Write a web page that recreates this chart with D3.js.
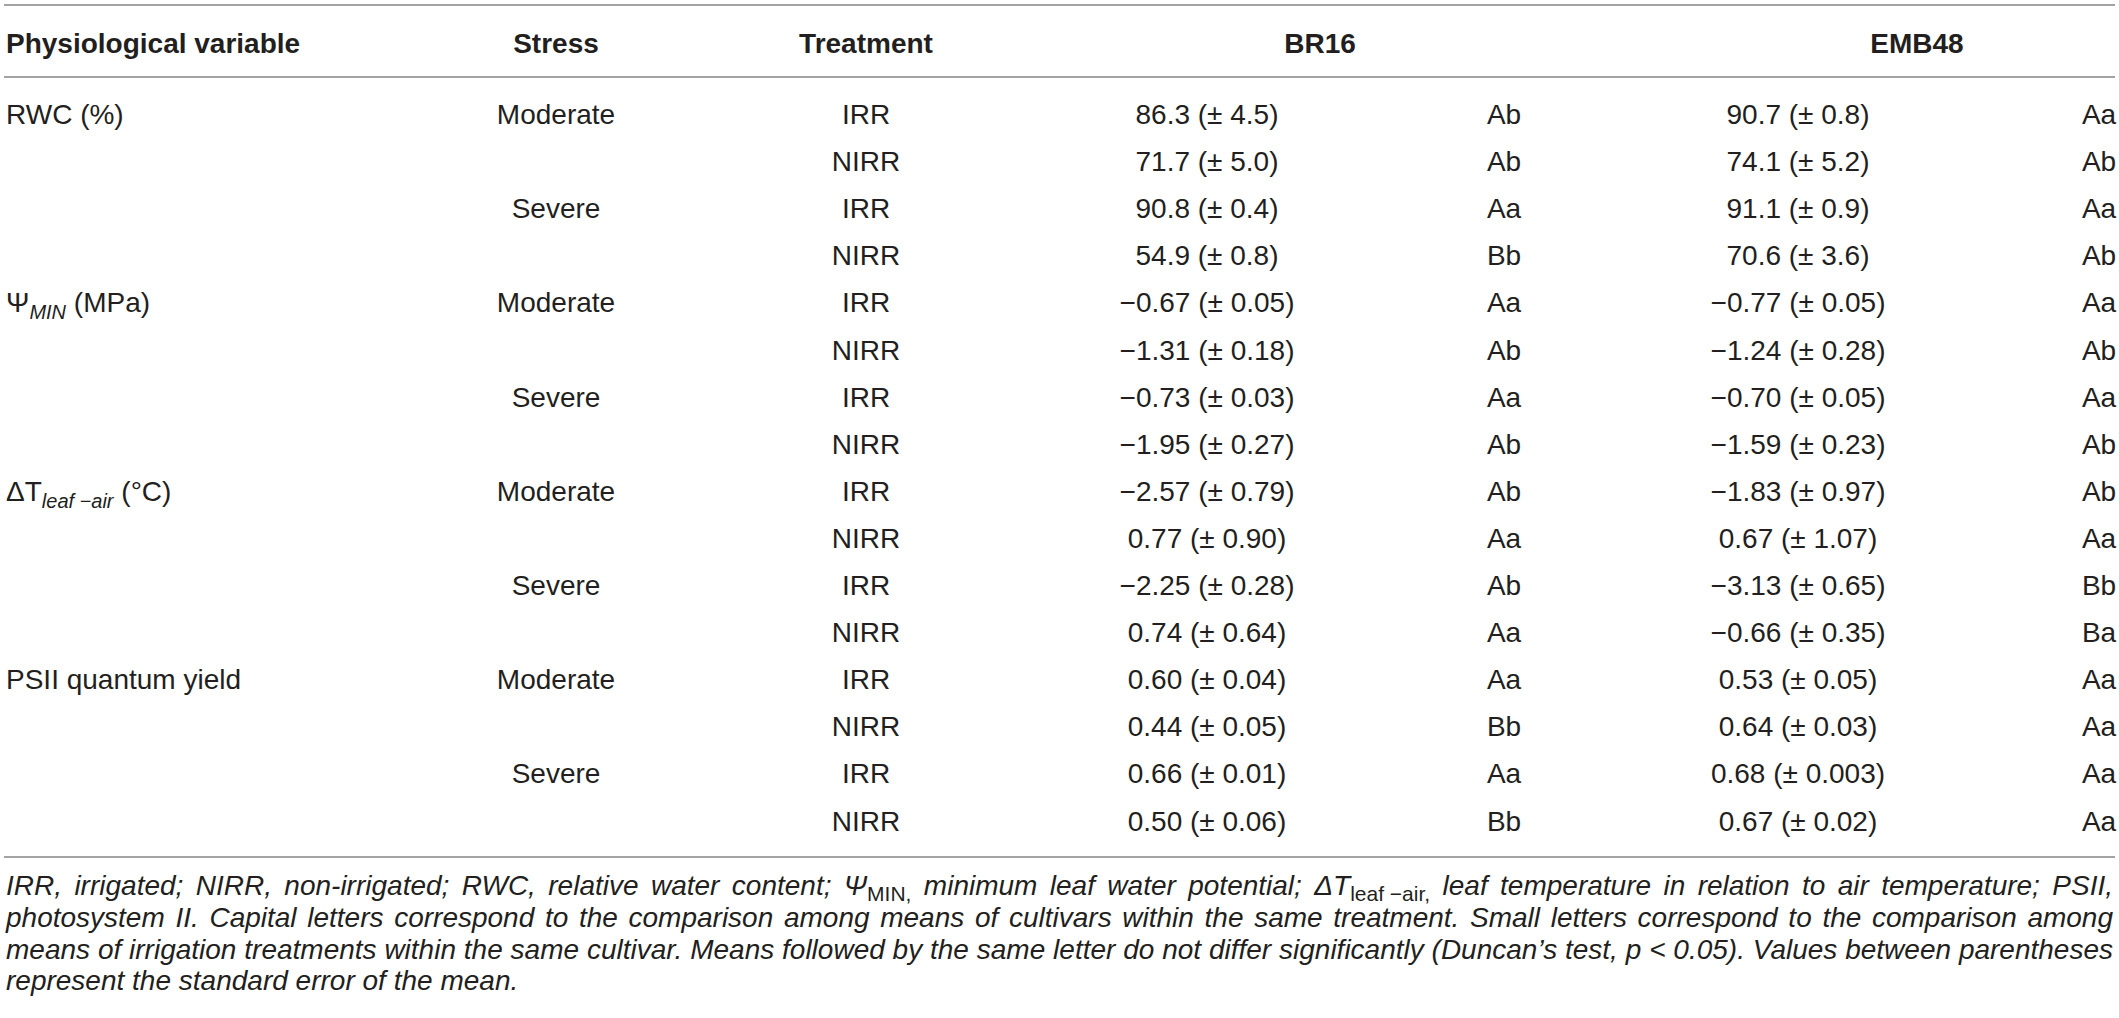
<!DOCTYPE html>
<html>
<head>
<meta charset="utf-8">
<script src="https://cdn.jsdelivr.net/npm/d3@7"></script>
<style>
  html, body { margin: 0; padding: 0; background: #fff; }
  svg text { font-family: "Liberation Sans", Arial, Helvetica, sans-serif; fill: #231f20; }
</style>
</head>
<body>
<svg id="table"></svg>
<script>
// Dimensions
const WIDTH = 2119;
const HEIGHT = 1018;

// Données du tableau
const columnHeaders = ["Physiological variable", "Stress", "Treatment", "BR16", "EMB48"];
const variables = ["RWC (%)", "Ψ_{MIN} (MPa)", "ΔT_{leaf  −air} (°C)", "PSII quantum yield"];
const stressLevels = ["Moderate", "Severe"];
const treatments = ["IRR", "NIRR"];

const br16Mean = ["86.3", "71.7", "90.8", "54.9", "−0.67", "−1.31", "−0.73", "−1.95",
                  "−2.57", "0.77", "−2.25", "0.74", "0.60", "0.44", "0.66", "0.50"];
const br16Se = ["4.5", "5.0", "0.4", "0.8", "0.05", "0.18", "0.03", "0.27",
                "0.79", "0.90", "0.28", "0.64", "0.04", "0.05", "0.01", "0.06"];
const br16Letters = ["Ab", "Ab", "Aa", "Bb", "Aa", "Ab", "Aa", "Ab",
                     "Ab", "Aa", "Ab", "Aa", "Aa", "Bb", "Aa", "Bb"];

const emb48Mean = ["90.7", "74.1", "91.1", "70.6", "−0.77", "−1.24", "−0.70", "−1.59",
                   "−1.83", "0.67", "−3.13", "−0.66", "0.53", "0.64", "0.68", "0.67"];
const emb48Se = ["0.8", "5.2", "0.9", "3.6", "0.05", "0.28", "0.05", "0.23",
                 "0.97", "1.07", "0.65", "0.35", "0.05", "0.03", "0.003", "0.02"];
const emb48Letters = ["Aa", "Ab", "Aa", "Ab", "Aa", "Ab", "Aa", "Ab",
                      "Ab", "Aa", "Bb", "Ba", "Aa", "Aa", "Aa", "Aa"];

const footnoteLines = [
  "IRR, irrigated; NIRR, non-irrigated; RWC, relative water content; Ψ_{MIN,} minimum leaf water potential; ΔT_{leaf  −air,} leaf temperature in relation to air temperature; PSII,",
  "photosystem II. Capital letters correspond to the comparison among means of cultivars within the same treatment. Small letters correspond to the comparison among",
  "means of irrigation treatments within the same cultivar. Means followed by the same letter do not differ significantly (Duncan’s test, p < 0.05). Values between parentheses",
  "represent the standard error of the mean."
];

/**
 * Découpe une chaîne "a_{sub} b" en morceaux {t, sub}
 */
function parseRuns(str) {
  const runs = [];
  const re = /_\{([^}]*)\}/g;
  let last = 0, m;
  while ((m = re.exec(str)) !== null) {
    if (m.index > last) runs.push({ t: str.slice(last, m.index), sub: false });
    runs.push({ t: m[1], sub: true });
    last = re.lastIndex;
  }
  if (last < str.length) runs.push({ t: str.slice(last), sub: false });
  return runs;
}

/**
 * Découpe une ligne en mots, sans couper à l'intérieur des accolades
 */
function splitWords(line) {
  const words = [];
  let cur = "", depth = 0;
  for (const ch of line) {
    if (ch === "{") depth++;
    if (ch === "}") depth--;
    if (ch === " " && depth === 0) {
      if (cur) words.push(cur);
      cur = "";
    } else {
      cur += ch;
    }
  }
  if (cur) words.push(cur);
  return words;
}

/**
 * Ajoute les tspans (avec indices) à un élément texte
 */
function addRuns(text, str, opts) {
  let shifted = false;
  parseRuns(str).forEach(r => {
    const ts = text.append("tspan").text(r.t);
    if (r.sub) {
      ts.attr("font-size", opts.subSize).attr("dy", shifted ? 0 : opts.subShift);
      if (opts.subStyle) ts.attr("font-style", opts.subStyle);
      shifted = true;
    } else {
      if (shifted) ts.attr("dy", -opts.subShift);
      shifted = false;
    }
  });
}

function render() {
  const svg = d3.select("#table")
    .attr("width", WIDTH)
    .attr("height", HEIGHT)
    .attr("viewBox", `0 0 ${WIDTH} ${HEIGHT}`);

  const nRows = br16Mean.length;

  // Échelle verticale des lignes (ligne de base du texte)
  const y = d3.scalePoint()
    .domain(d3.range(nRows))
    .range([124, 124 + (nRows - 1) * 47.1]);

  // Positions des colonnes
  const x = d3.scaleOrdinal()
    .domain(["variable", "stress", "treatment", "br16", "br16Letter", "emb48", "emb48Letter", "br16Head", "emb48Head"])
    .range([6, 556, 866, 1207, 1504, 1798, 2099, 1320, 1917]);

  // Filets horizontaux
  const rules = [5, 77, 857];
  svg.selectAll("line.rule")
    .data(rules)
    .enter()
    .append("line")
    .attr("class", "rule")
    .attr("x1", 4)
    .attr("x2", 2115)
    .attr("y1", d => d)
    .attr("y2", d => d)
    .attr("stroke", "#a3a3a3")
    .attr("stroke-width", 2);

  // En-têtes
  const headerKeys = ["variable", "stress", "treatment", "br16Head", "emb48Head"];
  svg.selectAll("text.header")
    .data(columnHeaders)
    .enter()
    .append("text")
    .attr("class", "header")
    .attr("x", (d, i) => x(headerKeys[i]))
    .attr("y", 53)
    .attr("text-anchor", (d, i) => i === 0 ? "start" : "middle")
    .attr("font-size", 28)
    .attr("font-weight", "bold")
    .text(d => d);

  // Corps du tableau
  const rows = d3.range(nRows).map(i => ({
    i: i,
    variable: i % 4 === 0 ? variables[i / 4] : null,
    stress: i % 2 === 0 ? stressLevels[(i / 2) % 2] : null,
    treatment: treatments[i % 2],
    br16: `${br16Mean[i]} (± ${br16Se[i]})`,
    br16Letter: br16Letters[i],
    emb48: `${emb48Mean[i]} (± ${emb48Se[i]})`,
    emb48Letter: emb48Letters[i]
  }));

  const body = svg.append("g").attr("class", "body").attr("font-size", 28);

  rows.forEach(r => {
    if (r.variable) {
      const t = body.append("text")
        .attr("x", x("variable"))
        .attr("y", y(r.i));
      addRuns(t, r.variable, { subSize: 20, subShift: 7, subStyle: "italic" });
    }
    ["stress", "treatment", "br16", "br16Letter", "emb48", "emb48Letter"].forEach(key => {
      if (!r[key]) return;
      body.append("text")
        .attr("x", x(key))
        .attr("y", y(r.i))
        .attr("text-anchor", "middle")
        .text(r[key]);
    });
  });

  // Note de bas de tableau (justifiée)
  const note = svg.append("g")
    .attr("class", "footnote")
    .attr("font-size", 28)
    .attr("font-style", "italic");

  const left = 6, right = 2113;
  footnoteLines.forEach((line, li) => {
    const baseline = 895 + li * 31.8;
    const words = splitWords(line);
    const nodes = words.map(w => {
      const t = note.append("text").attr("y", baseline);
      addRuns(t, w, { subSize: 21, subShift: 6, subStyle: "normal" });
      return t;
    });
    const widths = nodes.map(n => n.node().getComputedTextLength());
    const justify = li < footnoteLines.length - 1;
    const gap = justify
      ? Math.max(4, (right - left - d3.sum(widths)) / (words.length - 1))
      : 7.8;
    let cx = left;
    nodes.forEach((n, i) => {
      n.attr("x", cx);
      cx += widths[i] + gap;
    });
  });
}

document.addEventListener("DOMContentLoaded", render);
</script>
</body>
</html>
